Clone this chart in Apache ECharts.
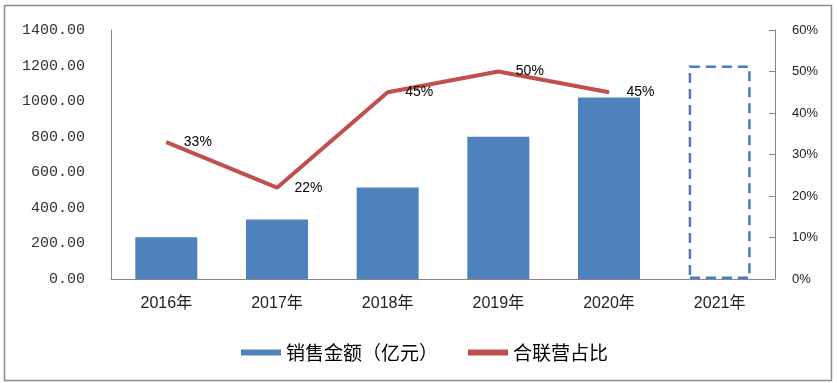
<!DOCTYPE html>
<html>
<head>
<meta charset="utf-8">
<script src="https://cdn.jsdelivr.net/npm/echarts@6/dist/echarts.min.js"></script>
<style>html,body{margin:0;padding:0;background:#fff;}#c{width:837px;height:383px;}</style>
</head>
<body>
<div id="c"></div>
<script>
var categories = ['2016年','2017年','2018年','2019年','2020年','2021年'];
var salesValues = [235, 335, 515, 800, 1020, 1200];
var shareValues = [33, 22, 45, 50, 45, null];
var leftTicks = [0, 1400, 200];
var rightTicks = [0, 60, 10];
var seriesNames = ['销售金额（亿元）', '合联营占比'];

var chart = echarts.init(document.getElementById('c'));
var barData = salesValues.map(function (v, i) {
  if (i === salesValues.length - 1) {
    return {
      value: v,
      itemStyle: { color: 'rgba(0,0,0,0)', borderColor: '#4A7EBB', borderWidth: 2.5, borderType: [10, 6] }
    };
  }
  return v;
});
chart.setOption({
  animation: false,
  graphic: [{
    type: 'rect', shape: { x: 4.5, y: 5.5, width: 827, height: 375 },
    style: { fill: 'none', stroke: '#8c8c8c', lineWidth: 1.5 }, silent: true
  }],
  grid: { left: 111, right: 62, top: 30, bottom: 104 },
  legend: {
    left: 236, top: 338, itemWidth: 40, itemHeight: 6, itemGap: 30,
    textStyle: { fontFamily: 'Noto Sans CJK SC', fontSize: 19, color: '#000' },
    data: [{ name: seriesNames[0], icon: 'rect' }, { name: seriesNames[1], icon: 'rect' }]
  },
  xAxis: {
    type: 'category', data: categories,
    axisLine: { lineStyle: { color: '#868686', width: 1 } },
    axisTick: { show: false },
    axisLabel: { fontFamily: 'Liberation Sans, Noto Sans CJK SC', fontSize: 16, color: '#222', margin: 17 }
  },
  yAxis: [{
    type: 'value', min: leftTicks[0], max: leftTicks[1], interval: leftTicks[2],
    axisLine: { show: true, lineStyle: { color: '#868686' } },
    axisTick: { show: false }, splitLine: { show: false },
    axisLabel: { fontFamily: 'Liberation Mono', fontSize: 15, color: '#333', margin: 26,
      formatter: function (v) { return v.toFixed(2); } }
  }, {
    type: 'value', min: rightTicks[0], max: rightTicks[1], interval: rightTicks[2], position: 'right',
    axisLine: { show: true, lineStyle: { color: '#868686' } },
    axisTick: { show: true, inside: true, length: 6, lineStyle: { color: '#868686' } },
    splitLine: { show: false },
    axisLabel: { fontFamily: 'Liberation Sans', fontSize: 13, color: '#222', margin: 17, formatter: '{value}%' }
  }],
  series: [{
    name: seriesNames[0], type: 'bar', yAxisIndex: 0, data: barData, barWidth: 62,
    itemStyle: { color: '#4F81BD' }
  }, {
    name: seriesNames[1], type: 'line', yAxisIndex: 1, data: shareValues,
    symbol: 'circle', symbolSize: 1, showSymbol: true,
    lineStyle: { color: '#C0504D', width: 4 }, itemStyle: { color: '#C0504D' },
    label: { show: true, position: 'right', distance: 17, fontFamily: 'Liberation Sans', fontSize: 14, color: '#000',
      formatter: '{c}%' }
  }]
});
</script>
</body>
</html>
